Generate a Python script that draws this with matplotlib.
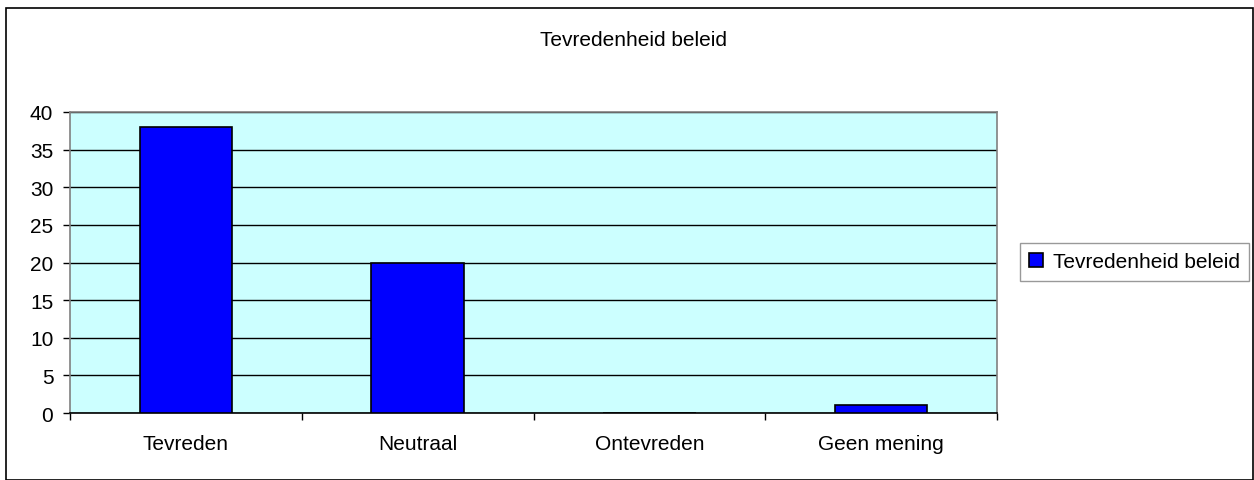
import matplotlib.pyplot as plt
from matplotlib.patches import Rectangle

plt.rcParams['font.family'] = ['Liberation Sans', 'DejaVu Sans']

categorieen = ["Tevreden", "Neutraal", "Ontevreden", "Geen mening"]
waarden = [38, 20, 0, 1]
y_ticks = [0, 5, 10, 15, 20, 25, 30, 35, 40]
reeks = "Tevredenheid beleid"

fig = plt.figure(figsize=(12.54, 4.81), dpi=100)
fig.patch.set_facecolor("white")

# buitenkader van de grafiek
fig.patches.append(Rectangle((6 / 1254, 0), 1 - 7 / 1254, 1 - 9 / 481,
                             transform=fig.transFigure, fill=False,
                             edgecolor="black", linewidth=1.2))

ax = fig.add_axes([70 / 1254, 1 - 414 / 481, 927 / 1254, 301 / 481])
ax.set_facecolor("#CCFFFF")

x = range(len(categorieen))
ax.bar(x, waarden, width=0.4, color="#0000FF", edgecolor="black",
       linewidth=1.2, label=reeks, zorder=3)

ax.set_xlim(-0.5, len(categorieen) - 0.5)
ax.set_ylim(0, 40)
ax.set_yticks(y_ticks)
ax.set_yticklabels([str(t) for t in y_ticks], fontsize=15)
ax.yaxis.grid(True, color="black", linewidth=1, zorder=1)
ax.set_axisbelow(True)

# categorielabels midden, tickstreepjes op de grenzen
ax.set_xticks(list(x))
ax.set_xticklabels(categorieen, fontsize=15)
ax.tick_params(axis="x", length=0, pad=15)
ax.set_xticks([i - 0.5 for i in range(len(categorieen) + 1)], minor=True)
ax.tick_params(axis="x", which="minor", length=5, width=1, color="black", direction="out")
ax.tick_params(axis="y", length=5, width=1, direction="out", pad=7)

for s in ["left", "right", "top"]:
    ax.spines[s].set_color("#808080")
    ax.spines[s].set_linewidth(1.2)
ax.spines["bottom"].set_color("black")
ax.spines["bottom"].set_linewidth(1.2)

fig.text(633 / 1254, 1 - 40 / 481, reeks, ha="center", va="center", fontsize=15)

leg = ax.legend(loc="center left", bbox_to_anchor=(1020 / 1254, 1 - 263 / 481),
                bbox_transform=fig.transFigure, fontsize=15, frameon=True,
                fancybox=False, handlelength=0.67, handleheight=0.67,
                handletextpad=0.45, borderpad=0.45, borderaxespad=0)
leg.get_frame().set_edgecolor("#808080")
leg.get_frame().set_linewidth(1)

fig.savefig("out.png", dpi=100)
